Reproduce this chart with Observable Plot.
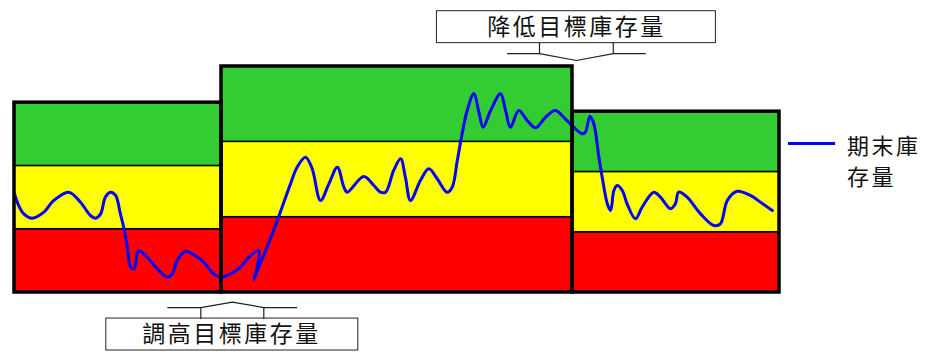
<!DOCTYPE html>
<html>
<head>
<meta charset="utf-8">
<script src="https://cdn.jsdelivr.net/npm/d3@7"></script>
<script src="https://cdn.jsdelivr.net/npm/@observablehq/plot@0.6"></script>
<style>
  body { margin: 0; background: #fff; }
  svg { letter-spacing: 2.5px; }
</style>
</head>
<body>
<div id="chart"></div>
<script>
// Three planning periods (day index) with their target-inventory zones
const periodStart = [0, 69, 186];
const periodEnd = [69, 186, 255];
const redTop = [42, 50, 40];
const yellowTop = [84, 100, 80];
const greenTop = [126, 150, 120];
const zoneColors = ["#ff0000", "#ffff00", "#33cc33"];

// Ending inventory (期末庫存量) by day
const day = [0, 1.4, 3.1, 5.9, 9.8, 13.1, 18.1, 22, 25.3, 27, 28.7, 30.3, 32, 33.7, 35.3,
  36.4, 37.6, 38.7, 39.8, 40.9, 41.4, 44.2, 47.6, 50.9, 52.6, 54.2, 57, 59.2, 63.1, 66.4,
  68.7, 72, 75.3, 78.7, 81.4, 80.9, 79.8, 81.4, 84.2, 87.6, 92, 94.2, 97, 99.2, 102,
  104.8, 107.6, 109.8, 110.9, 116.4, 119.8, 122, 123.7, 126.4, 128.7, 130.3, 132, 135.3, 138.1, 140.9,
  144.2, 145.9, 147.6, 149.2, 150.9, 153.1, 154.8, 156.2, 158.7, 162, 163.7, 165.3, 168.1, 170.9, 173.7,
  177, 180.3, 183.1, 186.4, 189.2, 190.3, 191.8, 193.1, 194.8, 195.9, 197.6, 198.7, 199.8, 200.9, 202.6,
  204.2, 207, 209.2, 213.1, 215.3, 218.7, 220.3, 221.4, 224.2, 228.7, 233.1, 235.3, 237.6, 240.9, 245.3,
  248.7, 252.6];
const stock = [65.5, 57.7, 52.2, 49.3, 53.3, 61.1, 66.6, 59.9, 51.1, 49.3, 52.2, 63.3, 66.6, 64.4, 52.2,
  43.3, 30.1, 16.8, 15.7, 25.7, 27.9, 23.4, 15.7, 10.2, 12.4, 21.2, 27.4, 25.7, 20.1, 12.4,
  10.2, 12.4, 16.8, 24.6, 27.9, 16.8, 8.6, 16.8, 30.1, 47.8, 72.1, 83.2, 89.8, 82.3, 61.1,
  72.1, 83.2, 69.9, 66.6, 77.0, 71.0, 66.6, 66.6, 81.0, 88.7, 76.5, 61.1, 74.3, 82.1, 75.5,
  66.6, 69.9, 87.6, 105.3, 120.8, 131.9, 119.7, 109.7, 120.8, 131.9, 120.8, 109.7, 120.8, 114.2, 109.3,
  116.3, 120.8, 116.3, 109.7, 105.3, 106.4, 116.8, 112.0, 89.8, 76.5, 58.9, 54.4, 67.7, 71.0, 67.7,
  58.9, 48.9, 56.6, 66.6, 63.3, 55.6, 58.9, 66.6, 63.3, 52.2, 44.5, 45.6, 61.1, 67.2, 64.4,
  59.9, 54.4];

const seriesName = "期末庫存量";
const lowerNote = "降低目標庫存量";
const raiseNote = "調高目標庫存量";

const font = "'Noto Sans CJK TC', 'Noto Sans CJK SC', sans-serif";

// zone rectangles: red / yellow / green stacked in each period
const zones = periodStart.flatMap((s, i) => {
  const tops = [redTop[i], yellowTop[i], greenTop[i]];
  return tops.map((top, k) => ({
    x1: s, x2: periodEnd[i], y1: k === 0 ? 0 : tops[k - 1], y2: top, fill: zoneColors[k]
  }));
});
const blocks = periodStart.map((s, i) => ({x1: s, x2: periodEnd[i], y2: greenTop[i]}));
const series = day.map((d, i) => ({day: d, stock: stock[i]}));

// callout anchored on a period boundary: a box with a brace pointing at it
function callout(cx, boxBottom, boxTop, braceY, tipY, halfBox, halfNeck, halfArm) {
  const brace = [
    {g: 0, x: cx - halfArm, y: braceY}, {g: 0, x: cx - halfNeck, y: braceY},
    {g: 0, x: cx, y: tipY}, {g: 0, x: cx + halfNeck, y: braceY}, {g: 0, x: cx + halfArm, y: braceY},
    {g: 1, x: cx - halfNeck, y: braceY}, {g: 1, x: cx - halfNeck, y: boxBottom},
    {g: 2, x: cx + halfNeck, y: braceY}, {g: 2, x: cx + halfNeck, y: boxBottom}
  ];
  const box = [{x1: cx - halfBox, x2: cx + halfBox, y1: Math.min(boxBottom, boxTop), y2: Math.max(boxBottom, boxTop)}];
  return {brace, box, textY: (boxBottom + boxTop) / 2};
}
const upper = callout(periodStart[2] + 1.3, 165.5, 186.7, 158.6, 154, 46.5, 12.3, 23);
const lower = callout(periodStart[1] + 3.6, -17.3, -38.5, -10, -6.4, 42, 10.5, 21.5);

const xMax = periodEnd[periodEnd.length - 1];

const chart = Plot.plot({
  width: 928,
  height: 352,
  marginLeft: 14,
  marginRight: 149,
  marginTop: 66,
  marginBottom: 60,
  x: {domain: [0, xMax], axis: null},
  y: {domain: [0, 150], axis: null},
  marks: [
    Plot.rect(zones, {x1: "x1", x2: "x2", y1: "y1", y2: "y2", fill: "fill", stroke: "#000", strokeWidth: 1.5}),
    Plot.line(series, {x: "day", y: "stock", stroke: "#0000ff", strokeWidth: 3, curve: "catmull-rom"}),
    Plot.rect(blocks, {x1: "x1", x2: "x2", y1: 0, y2: "y2", fill: "none", stroke: "#000", strokeWidth: 3.5}),
    // callouts
    Plot.rect(upper.box, {x1: "x1", x2: "x2", y1: "y1", y2: "y2", fill: "#fff", stroke: "#222", strokeWidth: 1}),
    Plot.line(upper.brace, {x: "x", y: "y", z: "g", stroke: "#222", strokeWidth: 1.2}),
    Plot.text([lowerNote], {x: periodStart[2] + 1.3, y: upper.textY, text: d => d, fontSize: 23, fontFamily: font, fill: "#111"}),
    Plot.rect(lower.box, {x1: "x1", x2: "x2", y1: "y1", y2: "y2", fill: "#fff", stroke: "#222", strokeWidth: 1}),
    Plot.line(lower.brace, {x: "x", y: "y", z: "g", stroke: "#222", strokeWidth: 1.2}),
    Plot.text([raiseNote], {x: periodStart[1] + 3.3, y: lower.textY, text: d => d, fontSize: 23, fontFamily: font, fill: "#111"}),
    // legend
    Plot.ruleY([98.9], {x1: xMax + 3, x2: xMax + 18.7, stroke: "#0000ff", strokeWidth: 3}),
    Plot.text(["期末庫\n存量"], {x: xMax + 22.5, y: 88, text: d => d, textAnchor: "start", lineAnchor: "middle", lineHeight: 1.4, fontSize: 22, fontFamily: font, fill: "#111"})
  ]
});
chart.setAttribute("aria-label", seriesName);
document.getElementById("chart").appendChild(chart);
</script>
</body>
</html>
